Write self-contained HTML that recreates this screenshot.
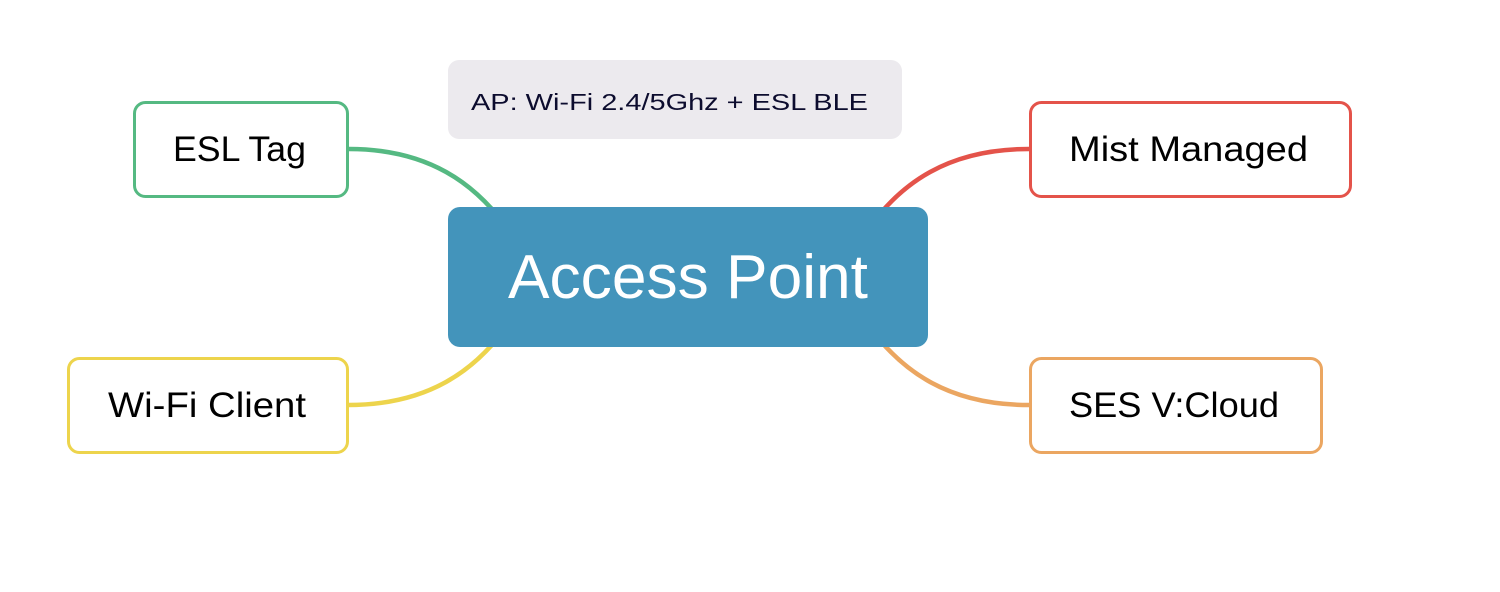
<!DOCTYPE html>
<html>
<head>
<meta charset="utf-8">
<style>
  html, body { margin: 0; padding: 0; background: #ffffff; }
  body { width: 1500px; height: 592px; overflow: hidden; }
  svg { display: block; }
  text { font-family: "Liberation Sans", sans-serif; }
</style>
</head>
<body>
<svg width="1500" height="592" viewBox="0 0 1500 592" xmlns="http://www.w3.org/2000/svg">
  <rect x="0" y="0" width="1500" height="592" fill="#ffffff"/>

  <!-- connectors -->
  <path d="M349,149 C430,149 475,185 505,225" fill="none" stroke="#55B982" stroke-width="4.5"/>
  <path d="M1029,149 C946,149 901,185 871,225" fill="none" stroke="#E4534A" stroke-width="4.5"/>
  <path d="M348,405 C430,405 475,369 505,329" fill="none" stroke="#EDD44C" stroke-width="4.5"/>
  <path d="M1029,405 C946,405 901,369 871,329" fill="none" stroke="#EBA661" stroke-width="4.5"/>

  <!-- note -->
  <rect x="448" y="60" width="454" height="79" rx="11" ry="11" fill="#ECEAEE"/>
  <text x="471" y="110" font-size="23" fill="#0C0C2E" textLength="397" lengthAdjust="spacingAndGlyphs">AP: Wi-Fi 2.4/5Ghz + ESL BLE</text>

  <!-- central -->
  <rect x="448" y="207" width="480" height="140" rx="12" ry="12" fill="#4394BB"/>
  <text x="508" y="298" font-size="62" fill="#ffffff" textLength="360" lengthAdjust="spacingAndGlyphs">Access Point</text>

  <!-- ESL Tag -->
  <rect x="134.5" y="102.5" width="213" height="94" rx="11" ry="11" fill="#ffffff" stroke="#55B982" stroke-width="3"/>
  <text x="173" y="161" font-size="35" fill="#000000" textLength="133" lengthAdjust="spacingAndGlyphs">ESL Tag</text>

  <!-- Mist Managed -->
  <rect x="1030.5" y="102.5" width="320" height="94" rx="11" ry="11" fill="#ffffff" stroke="#E4534A" stroke-width="3"/>
  <text x="1069" y="161" font-size="35" fill="#000000" textLength="239" lengthAdjust="spacingAndGlyphs">Mist Managed</text>

  <!-- Wi-Fi Client -->
  <rect x="68.5" y="358.5" width="279" height="94" rx="11" ry="11" fill="#ffffff" stroke="#EDD44C" stroke-width="3"/>
  <text x="108" y="417" font-size="35" fill="#000000" textLength="198" lengthAdjust="spacingAndGlyphs">Wi-Fi Client</text>

  <!-- SES V:Cloud -->
  <rect x="1030.5" y="358.5" width="291" height="94" rx="11" ry="11" fill="#ffffff" stroke="#EBA661" stroke-width="3"/>
  <text x="1069" y="417" font-size="35" fill="#000000" textLength="210" lengthAdjust="spacingAndGlyphs">SES V:Cloud</text>
</svg>
</body>
</html>
